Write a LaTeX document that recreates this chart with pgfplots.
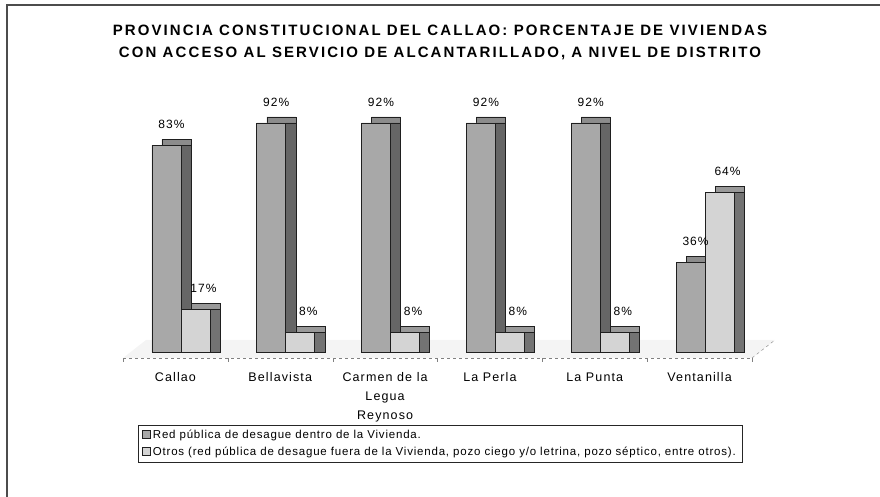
\documentclass[border=0pt]{standalone}
\usepackage{pgfplots}
\pgfplotsset{compat=1.18}
\usepackage{pgfplotstable}
\usepackage{fontspec}
\setmainfont{Liberation Sans}
\newfontfamily\titlefont[LetterSpace=14]{Liberation Sans}
\newfontfamily\labelfont[LetterSpace=9]{Liberation Sans}
\newfontfamily\legendfont[LetterSpace=7]{Liberation Sans}

\definecolor{frontA}{gray}{0.66}
\definecolor{frontB}{gray}{0.83}
\definecolor{sideA}{gray}{0.40}
\definecolor{sideB}{gray}{0.45}
\definecolor{topA}{gray}{0.55}
\definecolor{topB}{gray}{0.60}
\definecolor{edge}{gray}{0.12}

% porcentajes por distrito
\pgfplotstableread{
x red otros
0 83 17
1 92 8
2 92 8
3 92 8
4 92 8
5 36 64
}\datos

\begin{document}
\begin{tikzpicture}[x=1pt,y=1pt]
\useasboundingbox (0,0) rectangle (880,497);
% marco (escaneado: solo borde izquierdo y superior)
\draw[line width=1.5pt, gray!60!black] (7,0) -- (7,492) -- (880,492);
\node[font=\fontsize{15}{18}\titlefont\bfseries] at (440,467) {PROVINCIA CONSTITUCIONAL DEL CALLAO: PORCENTAJE DE VIVIENDAS};
\node[font=\fontsize{15}{18}\titlefont\bfseries] at (440,444) {CON ACCESO AL SERVICIO DE ALCANTARILLADO, A NIVEL DE DISTRITO};
% piso
\fill[gray!9] (123,139) -- (752,139) -- (775,157) -- (146,157) -- cycle;
\draw[gray, dashed] (752,139) -- (775,157);

\begin{axis}[
  at={(123pt,139pt)}, anchor=south west,
  scale only axis, width=629pt, height=255pt,
  xmin=-0.5, xmax=5.5, ymin=-2.4, ymax=100,
  clip=false,
  ybar, bar width=29pt,
  hide y axis,
  axis x line*=bottom,
  x axis line style={draw=gray, dashed},
  xtick={0,...,5},
  xticklabels={Callao, Bellavista, {Carmen de la\\Legua\\Reynoso}, La Perla, La Punta, Ventanilla},
  xticklabel style={align=center, font=\fontsize{12.5}{19}\labelfont, yshift=-11pt},
  major tick length=0pt,
  tick align=outside,
  extra x ticks={-0.5,0.5,...,5.5},
  extra x tick labels={},
  extra x tick style={major tick length=4pt, tick style={draw=gray}},
  /pgf/number format/assume math mode=true,
  nodes near coords={\pgfmathprintnumber{\pgfplotspointmeta}\%},
  every node near coord/.append style={font=\fontsize{12}{14}\labelfont, yshift=13pt, black},
  legend style={at={(0.024,-0.263)}, anchor=north west, draw=gray!30!black,
    font=\fontsize{11.5}{13}\legendfont, row sep=3pt, inner xsep=4pt, inner ysep=3pt},
  legend cell align=left,
  legend image code/.code={\draw[#1, draw=edge] (0pt,-3.5pt) rectangle (8pt,4.5pt);},
]
% caras superiores y laterales
\addplot[forget plot, nodes near coords={}, fill=topA, draw=edge, line width=0.5pt, bar shift=-9pt, xshift=10pt, yshift=6pt] table[y=red]{\datos};
\addplot[forget plot, nodes near coords={}, fill=sideA, draw=edge, line width=0.5pt, bar shift=-9pt, xshift=10pt] table[y=red]{\datos};
\addplot[forget plot, nodes near coords={}, fill=topB, draw=edge, line width=0.5pt, bar shift=20pt, xshift=10pt, yshift=6pt] table[y=otros]{\datos};
\addplot[forget plot, nodes near coords={}, fill=sideB, draw=edge, line width=0.5pt, bar shift=20pt, xshift=10pt] table[y=otros]{\datos};
% caras frontales
\addplot[fill=frontA, draw=edge, line width=0.6pt, bar shift=-9pt,
  every node near coord/.append style={xshift=5pt}] table[y=red]{\datos};
\addlegendentry{Red pública de desague dentro de la Vivienda.}
\addplot[fill=frontB, draw=edge, line width=0.6pt, bar shift=20pt,
  every node near coord/.append style={xshift=8pt}] table[y=otros]{\datos};
\addlegendentry{Otros (red pública de desague fuera de la Vivienda, pozo ciego y/o letrina, pozo séptico, entre otros).\hspace{6pt}}
\end{axis}
\end{tikzpicture}
\end{document}
